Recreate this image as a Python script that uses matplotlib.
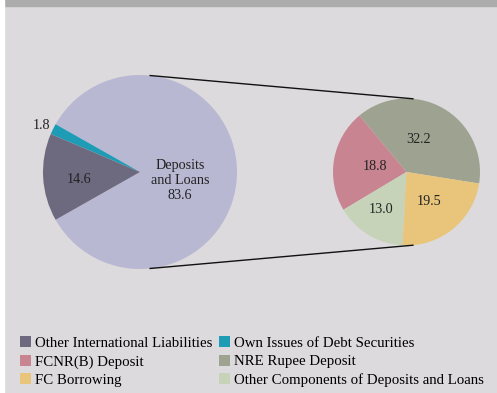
import numpy as np
import matplotlib.pyplot as plt
from matplotlib.patches import Rectangle, Patch

# Main pie: shares of international liabilities (per cent)
main_labels = ["Deposits and Loans", "Own Issues of Debt Securities", "Other International Liabilities"]
main_values = [83.6, 1.8, 14.6]
main_colors = ["#b9b8d3", "#1f9cb5", "#6d6a80"]

# Breakdown of Deposits and Loans
sub_labels = ["NRE Rupee Deposit", "FCNR(B) Deposit", "Other Components of Deposits and Loans", "FC Borrowing"]
sub_values = [32.2, 18.8, 13.0, 19.5]
sub_colors = ["#9da390", "#c98492", "#c6d3b8", "#e8c57a"]

bg = "#dcdadd"
plt.rcParams['font.family'] = ['Liberation Serif', 'DejaVu Serif']

fig = plt.figure(figsize=(4.97, 3.93), dpi=100, facecolor=bg)
ax = fig.add_axes([0, 0, 1, 1])

# page decoration: top band and left white strip
ax.add_patch(Rectangle((0, 387), 497, 6, color="#acacac", zorder=0))
ax.add_patch(Rectangle((0, 0), 4, 393, color="white", zorder=0))

big_c, big_r = (140, 221), 97
small_c, small_r = (406.5, 221), 73.5

start = -main_values[0] / 100 * 360 / 2
wedges1, _ = ax.pie(main_values, colors=main_colors, startangle=start,
                    center=big_c, radius=big_r, frame=True,
                    wedgeprops=dict(linewidth=0))
wedges2, _ = ax.pie(sub_values, colors=sub_colors, startangle=-9,
                    center=small_c, radius=small_r, frame=True,
                    wedgeprops=dict(linewidth=0))
ax.set_xlim(0, 497)
ax.set_ylim(0, 393)
ax.axis('off')

fs = 10.2

def label_at(w, c, r, frac, txt, ang_shift=0, **kw):
    ang = np.deg2rad((w.theta1 + w.theta2) / 2 + ang_shift)
    ax.text(c[0] + frac * r * np.cos(ang), c[1] + frac * r * np.sin(ang), txt,
            ha='center', va='center', fontsize=fs, color="#222222", **kw)

label_at(wedges1[0], big_c, big_r, 0.42, "Deposits\nand Loans\n%.1f" % main_values[0],
         ang_shift=-12, linespacing=1.2)
label_at(wedges1[2], big_c, big_r, 0.63, "%.1f" % main_values[2], ang_shift=4)
ang = np.deg2rad((wedges1[1].theta1 + wedges1[1].theta2) / 2)
ax.text(big_c[0] + 1.03 * big_r * np.cos(ang), big_c[1] + 1.03 * big_r * np.sin(ang) + 2,
        "%.1f" % main_values[1], ha='right', va='center', fontsize=fs, color="#222222")

sub_dist = [0.47, 0.44, 0.61, 0.5]
sub_shift = [9, 0, -3, -2]
for w, v, d, s in zip(wedges2, sub_values, sub_dist, sub_shift):
    label_at(w, small_c, small_r, d, "%.1f" % v, ang_shift=s)

# connector lines between the two pies
for a1, a2 in [(84, 85), (-84, -85)]:
    p1 = (big_c[0] + big_r * np.cos(np.deg2rad(a1)), big_c[1] + big_r * np.sin(np.deg2rad(a1)))
    p2 = (small_c[0] + small_r * np.cos(np.deg2rad(a2)), small_c[1] + small_r * np.sin(np.deg2rad(a2)))
    ax.plot([p1[0], p2[0]], [p1[1], p2[1]], color="#111111", lw=1.0)

# legend, row-wise order as in the original
order = [(main_labels[2], main_colors[2]), (sub_labels[1], sub_colors[1]), (sub_labels[3], sub_colors[3]),
         (main_labels[1], main_colors[1]), (sub_labels[0], sub_colors[0]), (sub_labels[2], sub_colors[2])]
handles = [Patch(facecolor=c, edgecolor='none', label=l) for l, c in order]
fig.legend(handles=handles, ncol=2, loc='lower left', bbox_to_anchor=(0.028, 0.0),
           frameon=False, fontsize=10.7, handlelength=0.75, handleheight=0.75,
           handletextpad=0.25, columnspacing=0.45, labelspacing=0.33, borderaxespad=0)

fig.savefig("out.png", dpi=100, facecolor=bg)
